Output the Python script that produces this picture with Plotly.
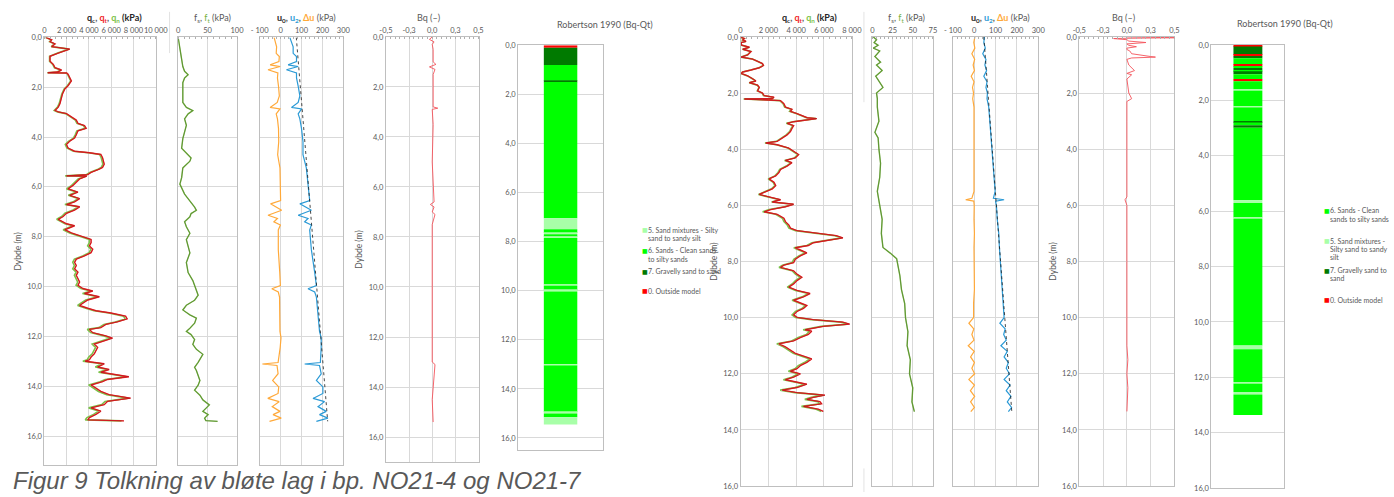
import plotly.graph_objects as go

W, H = 1394, 497
GRID = '#D9D9D9'
FRAME = '#BFBFBF'
TXT = '#595959'
FONT = 'Lato'

# ---------------- NO21-4 (left log) ----------------
depth_q4 = [0.00, 0.10, 0.17, 0.26, 0.37, 0.47, 0.63, 0.76, 0.96, 1.09,
            1.22, 1.31, 1.39, 1.42, 1.43, 1.48, 1.61, 1.75, 1.94, 2.07,
            2.27, 2.47, 2.66, 2.80, 2.93, 2.99, 3.06, 3.19, 3.32, 3.45,
            3.54, 3.65, 3.75, 3.91, 4.04, 4.17, 4.30, 4.44, 4.57, 4.63,
            4.70, 4.83, 4.96, 5.09, 5.22, 5.29, 5.42, 5.51, 5.56, 5.57,
            5.68, 5.81, 5.94, 6.08, 6.21, 6.34, 6.47, 6.60, 6.71, 6.80,
            6.93, 7.06, 7.19, 7.30, 7.39, 7.48, 7.56, 7.65, 7.72, 7.85,
            7.98, 8.11, 8.24, 8.37, 8.50, 8.64, 8.77, 8.90, 9.03, 9.16,
            9.29, 9.42, 9.55, 9.69, 9.82, 9.95, 10.08, 10.18, 10.28, 10.41,
            10.54, 10.67, 10.76, 10.87, 10.97, 11.06, 11.19, 11.30, 11.42, 11.52,
            11.65, 11.72, 11.85, 11.98, 12.07, 12.18, 12.31, 12.44, 12.57, 12.70,
            12.83, 12.94, 13.00, 13.10, 13.23, 13.33, 13.44, 13.56, 13.62, 13.73,
            13.82, 13.95, 14.08, 14.21, 14.34, 14.48, 14.61, 14.74, 14.87, 15.00,
            15.13, 15.26, 15.35, 15.39]
qt_4 = [120, 650, 500, 950, 650, 2270, 1240, 500, 500, 800,
        950, 1530, 1180, 300, 2000, 2120, 2270, 2420, 2120, 1830,
        1620, 1530, 1390, 1240, 950, 1240, 1980, 2420, 2860, 3010,
        3600, 3750, 3010, 2860, 2710, 2270, 1980, 2120, 2710, 4040,
        5070, 5220, 5310, 5370, 5220, 4930, 4190, 3890, 1980, 3800,
        3160, 2860, 2570, 2120, 3010, 2270, 3160, 2710, 1980, 3160,
        2710, 1980, 1680, 1240, 1680, 1980, 2710, 2270, 1830, 2420,
        3300, 4190, 4190, 4040, 4340, 4190, 3600, 2860, 2710, 2860,
        2710, 3010, 2860, 3010, 3160, 3010, 3450, 4340, 3600, 4930,
        3890, 3450, 3160, 3890, 4630, 5960, 7290, 7430, 6550, 5520,
        5070, 4040, 4340, 5520, 6110, 5370, 4480, 4780, 4630, 4480,
        4190, 4040, 3660, 5370, 4780, 5810, 5070, 6550, 7580, 5660,
        5220, 4190, 4630, 5070, 5810, 7730, 5660, 5370, 4190, 5070,
        4630, 4040, 3890, 7140]
qn_4 = [80, 600, 460, 900, 610, 2220, 1190, 460, 460, 750,
        900, 1480, 1130, 260, 1950, 2070, 2210, 2360, 2060, 1770,
        1560, 1470, 1320, 1170, 880, 1170, 1900, 2340, 2770, 2920,
        3500, 3650, 2910, 2760, 2600, 2160, 1870, 2010, 2590, 3920,
        4950, 5100, 5190, 5250, 5100, 4810, 4070, 3770, 1860, 3680,
        3030, 2730, 2440, 1990, 2880, 2140, 3020, 2570, 1840, 3020,
        2570, 1840, 1540, 1100, 1540, 1840, 2560, 2120, 1680, 2270,
        3140, 4030, 4030, 3880, 4170, 4020, 3430, 2690, 2540, 2690,
        2540, 2840, 2690, 2840, 2990, 2840, 3270, 4160, 3420, 4750,
        3710, 3270, 2980, 3710, 4450, 5780, 7110, 7250, 6370, 5340,
        4880, 3850, 4150, 5330, 5920, 5180, 4290, 4590, 4440, 4290,
        3980, 3830, 3450, 5160, 4570, 5600, 4860, 6340, 7370, 5450,
        5000, 3970, 4410, 4850, 5590, 7510, 5440, 5150, 3970, 4850,
        4410, 3820, 3670, 6920]

depth_f4 = [0, 0.38, 0.77, 1.17, 1.36, 1.50, 1.63, 1.82, 2.15, 2.61,
            2.81, 2.94, 3.07, 3.27, 3.53, 3.79, 4.06, 4.45, 4.71, 4.84,
            4.97, 5.24, 5.63, 5.89, 6.29, 6.55, 6.81, 6.94, 7.07, 7.20,
            7.40, 7.60, 7.86, 8.12, 8.39, 8.65, 9.04, 9.44, 9.76, 9.96,
            10.16, 10.35, 10.55, 10.75, 10.94, 11.14, 11.27, 11.47, 11.67, 11.80,
            11.93, 12.13, 12.32, 12.52, 12.72, 12.85, 13.04, 13.24, 13.37, 13.57,
            13.77, 13.96, 14.16, 14.36, 14.55, 14.75, 14.88, 15.01, 15.14, 15.28,
            15.38, 15.41]
ft_4 = [0, 3, 6, 8, 11, 17, 11, 8, 8, 8,
        14, 25, 17, 11, 14, 11, 8, 6, 17, 22,
        20, 8, 6, 3, 11, 20, 28, 31, 22, 20,
        11, 14, 20, 14, 17, 20, 14, 17, 25, 28,
        31, 34, 28, 14, 8, 20, 31, 28, 20, 14,
        22, 28, 25, 31, 42, 39, 34, 28, 31, 34,
        37, 34, 28, 37, 42, 53, 48, 42, 51, 45,
        47, 67]

depth_u4 = [0, 0.18, 0.38, 0.64, 0.77, 0.97, 1.10, 1.17, 1.23, 1.30,
            1.43, 1.63, 1.96, 2.35, 2.61, 2.81, 2.87, 3.07, 3.27, 3.66,
            4.19, 4.71, 5.24, 6.02, 6.55, 6.68, 6.81, 6.94, 7.14, 7.27,
            7.40, 7.53, 7.73, 8.52, 9.44, 9.96, 10.09, 10.22, 10.42, 11.14,
            11.80, 12.06, 12.45, 13.05, 13.11, 13.17, 13.50, 13.77, 14.03, 14.29,
            14.49, 14.62, 14.82, 15.01, 15.14, 15.28, 15.41]
u2_4 = [44, 52, 60, 60, 76, 76, 36, 84, 60, 28,
        76, 76, 84, 92, 84, 52, 100, 84, 92, 100,
        107, 107, 123, 131, 139, 92, 123, 147, 84, 131,
        115, 147, 139, 147, 163, 171, 131, 163, 171, 179,
        186, 194, 194, 190, 115, 186, 194, 171, 202, 202,
        155, 210, 179, 218, 186, 226, 171]
du_4 = [-31, -25, -19, -21, -6, -8, -50, -2, -27, -60,
        -13, -15, -10, -6, -16, -50, -3, -21, -15, -10,
        -9, -14, -3, -2, 0, -48, -18, 5, -60, -15,
        -32, -1, -11, -11, -4, -1, -42, -11, -5, -4,
        -3, 2, -2, -12, -87, -17, -12, -38, -9, -12,
        -61, -7, -40, -3, -36, 3, -53]
depth_u0_4 = [0.0, 15.41]
u0_4 = [75, 225]

depth_bq4 = [0, 0.1, 0.2, 0.3, 0.5, 1.0, 1.1, 1.2, 1.3, 1.5,
             2.0, 2.8, 2.85, 2.9, 3.5, 5.0, 6.6, 6.7, 6.8, 7.0,
             7.1, 7.5, 10.0, 13.0, 13.1, 14.5, 15.4]
bq_4 = [0.0, -0.03, 0.02, 0.0, 0.01, 0.01, 0.04, -0.03, 0.03, 0.01,
        0.01, 0.01, 0.06, 0.0, 0.01, 0.0, 0.02, -0.02, 0.02, 0.0,
        0.03, 0.0, 0.0, 0.0, 0.03, 0.0, 0.01]

rob4_bounds = [0.0, 0.1, 0.8, 1.45, 1.5, 7.05, 7.5, 7.65, 7.7, 7.8, 7.85,
               9.75, 9.8, 9.98, 10.03, 13.0, 13.05, 14.95, 15.0, 15.15, 15.45]
rob4_class = [0, 7, 6, 7, 6, 5, 6, 5, 6, 5, 6, 5, 6, 5, 6, 5, 6, 5, 6, 5]

# ---------------- NO21-7 (right log) ----------------
depth_q7 = [0.02, 0.06, 0.11, 0.16, 0.20, 0.29, 0.37, 0.44, 0.52, 0.64,
            0.72, 0.79, 0.87, 0.95, 1.02, 1.10, 1.18, 1.25, 1.30, 1.39,
            1.49, 1.57, 1.63, 1.72, 1.80, 1.92, 2.00, 2.09, 2.15, 2.20,
            2.21, 2.27, 2.38, 2.50, 2.58, 2.65, 2.73, 2.81, 2.88, 2.91,
            2.97, 3.02, 3.08, 3.16, 3.26, 3.37, 3.49, 3.61, 3.72, 3.78,
            3.84, 3.96, 4.07, 4.19, 4.31, 4.40, 4.48, 4.60, 4.72, 4.83,
            4.95, 5.06, 5.18, 5.30, 5.41, 5.53, 5.61, 5.70, 5.80, 5.88,
            5.96, 6.05, 6.15, 6.23, 6.32, 6.46, 6.58, 6.70, 6.81, 6.90,
            6.99, 7.08, 7.16, 7.24, 7.33, 7.43, 7.51, 7.59, 7.69, 7.80,
            7.92, 8.04, 8.13, 8.21, 8.33, 8.45, 8.56, 8.68, 8.80, 8.91,
            9.03, 9.14, 9.26, 9.38, 9.49, 9.57, 9.67, 9.78, 9.90, 9.99,
            10.07, 10.16, 10.23, 10.31, 10.43, 10.48, 10.60, 10.71, 10.83, 10.93,
            11.04, 11.16, 11.27, 11.39, 11.47, 11.59, 11.71, 11.82, 11.91, 12.00,
            12.12, 12.21, 12.29, 12.37, 12.49, 12.58, 12.67, 12.76, 12.84, 12.91,
            12.99, 13.07, 13.16, 13.26, 13.34]
qt_7 = [50, 280, 165, 400, 60, 50, 640, 165, 755, 520,
        50, 870, 1230, 1580, 1650, 1350, 755, 165, 50, 520,
        870, 1110, 640, 1230, 1350, 1230, 1580, 1700, 2410, 2300,
        280, 2880, 3120, 3230, 3700, 3590, 4060, 4530, 4800, 5480,
        4300, 3820, 3350, 3820, 3700, 3590, 3350, 3000, 2640, 1820,
        2640, 3470, 3820, 4180, 3940, 3230, 3700, 3350, 2880, 2760,
        2530, 2050, 2410, 2530, 2290, 1700, 1350, 2050, 2880, 2290,
        3820, 3230, 2170, 1700, 2640, 3120, 3230, 3470, 3590, 4060,
        5480, 6890, 7360, 6420, 5240, 4880, 3940, 4300, 4770, 4300,
        3940, 3820, 3120, 2880, 3820, 4060, 4410, 4060, 3820, 3470,
        4060, 5000, 4530, 3820, 4300, 4770, 4530, 4060, 3820, 4060,
        5240, 7360, 7840, 5950, 4650, 5120, 4880, 4300, 3820, 2760,
        3230, 3590, 3940, 4650, 5120, 4770, 4300, 4060, 3590, 4300,
        3820, 3230, 4060, 4770, 4060, 3000, 4060, 6060, 5240, 4770,
        5710, 5830, 4530, 5590, 5950]
qn_7 = [30, 260, 145, 380, 40, 30, 620, 145, 735, 500,
        30, 850, 1210, 1560, 1630, 1330, 735, 145, 30, 500,
        850, 1090, 620, 1210, 1330, 1210, 1560, 1640, 2350, 2240,
        220, 2820, 3060, 3170, 3640, 3530, 4000, 4470, 4740, 5420,
        4240, 3760, 3290, 3760, 3640, 3530, 3290, 2940, 2580, 1760,
        2580, 3410, 3760, 4120, 3880, 3170, 3640, 3290, 2820, 2700,
        2470, 1990, 2350, 2470, 2230, 1640, 1290, 1990, 2820, 2230,
        3760, 3170, 2060, 1590, 2530, 3010, 3120, 3360, 3480, 3950,
        5370, 6780, 7250, 6310, 5130, 4770, 3830, 4190, 4660, 4190,
        3830, 3710, 3010, 2770, 3710, 3950, 4300, 3950, 3710, 3360,
        3950, 4890, 4420, 3710, 4190, 4660, 4420, 3950, 3710, 3950,
        5090, 7210, 7690, 5800, 4500, 4970, 4730, 4150, 3670, 2610,
        3080, 3440, 3790, 4500, 4970, 4620, 4150, 3910, 3440, 4150,
        3670, 3080, 3910, 4620, 3910, 2850, 3910, 5910, 5090, 4620,
        5560, 5680, 4380, 5440, 5800]

depth_f7 = [0, 0.1, 0.2, 0.3, 0.4, 0.5, 0.7, 0.9, 1.0, 1.2,
            1.4, 1.6, 1.8, 2.0, 2.2, 2.5, 3.0, 3.4, 3.6, 4.0,
            4.5, 5.0, 5.5, 6.0, 6.5, 7.0, 7.5, 7.7, 7.9, 8.2,
            8.5, 9.0, 9.5, 10.0, 10.5, 11.0, 11.5, 12.0, 12.5, 13.0,
            13.35]
ft_7 = [1, 5, 2, 7, 1, 9, 3, 10, 5, 12,
        4, 8, 13, 5, 6, 6, 8, 3, 7, 8,
        10, 9, 6, 9, 12, 11, 13, 22, 30, 32,
        34, 36, 40, 41, 44, 43, 47, 46, 50, 49,
        52]

depth_u7 = [0, 0.2, 0.4, 0.6, 0.8, 1.0, 1.2, 1.4, 1.6, 1.8,
            2.0, 2.2, 2.5, 3.0, 3.5, 4.0, 4.5, 5.0, 5.5, 5.75,
            5.8, 5.85, 6.0, 6.5, 7.0, 7.5, 8.0, 8.5, 9.0, 9.5,
            10.0, 10.2, 10.4, 10.6, 10.8, 11.0, 11.2, 11.4, 11.6, 11.8,
            12.0, 12.2, 12.4, 12.6, 12.8, 13.0, 13.2, 13.35]
u2_7 = [48, 45, 52, 40, 55, 50, 58, 45, 60, 55,
        62, 60, 68, 73, 78, 82, 88, 95, 98, 90,
        140, 100, 104, 108, 115, 118, 122, 128, 132, 135,
        140, 120, 145, 138, 150, 125, 155, 140, 160, 150,
        165, 140, 168, 150, 172, 155, 175, 160]
du_7 = [3, -2, 3, -11, 2, -5, 1, -14, -1, -8,
        -3, -7, -1, -1, -1, -2, -1, 1, -1, -11,
        -40, -2, 0, -1, 1, -1, -1, 0, 1, -3,
        -3, -25, -2, -11, -1, -28, 0, -17, 1, -11,
        2, -25, 1, -18, 2, -17, 1, -16]
depth_u0_7 = [0.0, 13.35]
u0_7 = [45, 176]

depth_bq7 = [0, 0.02, 0.03, 0.05, 0.06, 0.1, 0.15, 0.2, 0.25, 0.3,
             0.35, 0.4, 0.45, 0.5, 0.6, 0.7, 0.72, 0.75, 0.8, 1.0,
             1.2, 1.3, 1.35, 1.5, 2.0, 2.2, 2.3, 3.0, 5.7, 5.8,
             6.0, 8.0, 11.0, 11.5, 12.0, 12.5, 13.34]
bq_7 = [0.0, 0.5, 0.5, 0.0, -0.14, 0.0, 0.02, 0.2, 0.0, 0.02,
        0.1, 0.0, 0.0, 0.03, 0.05, 0.25, 0.3, 0.05, 0.0, 0.02,
        0.08, 0.0, 0.05, 0.0, 0.02, 0.05, 0.0, 0.0, 0.0, -0.02,
        0.0, 0.0, 0.0, 0.01, 0.0, 0.01, 0.0]

rob7_bounds = [0.0, 0.06, 0.35, 0.41, 0.48, 0.71, 0.78, 0.83, 0.92, 0.95,
               1.06, 1.24, 1.31, 1.6, 1.65, 2.21, 2.26, 2.75, 2.8, 2.9,
               2.99, 5.61, 5.71, 6.23, 6.28, 10.85, 10.99, 12.17, 12.23, 12.53,
               12.62, 13.36]
rob7_class = [0, 7, 0, 7, 6, 0, 6, 7, 6, 7, 6, 0, 6, 5, 6, 5, 6, 7, 6, 7,
              6, 5, 6, 5, 6, 5, 6, 5, 6, 5, 6]

# Robertson (1990) soil behaviour classes
class_colors = {0: '#FF0000', 5: '#A8FFA8', 6: '#00FF00', 7: '#007A00'}
legend4 = [(5, ['5. Sand mixtures - Silty', 'sand to sandy silt']),
           (6, ['6. Sands - Clean sands', 'to silty sands']),
           (7, ['7. Gravelly sand to sand']),
           (0, ['0. Outside model'])]
legend7 = [(6, ['6. Sands - Clean', 'sands to silty sands']),
           (5, ['5. Sand mixtures -', 'Silty sand to sandy', 'silt']),
           (7, ['7. Gravelly sand to', 'sand']),
           (0, ['0. Outside model'])]

# ---------------- layout helpers ----------------
fig = go.Figure()
layout = {}
annotations = []
shapes = []


def xdom(a, b):
    return [a / W, b / W]


def ydom(top, bottom):
    return [1 - bottom / H, 1 - top / H]


def depth_txt(v):
    return f"{v:.1f}".replace('.', ',')


def thousands(v):
    return f"{v:,}".replace(',', ' ')


def panel(n, xpx, ypx, xrange, yrange, xticks=None, xtext=None, ylabels=False,
          ytitle=False, vgrid=True, minor_dtick=None):
    xa = 'xaxis' if n == 1 else f'xaxis{n}'
    ya = 'yaxis' if n == 1 else f'yaxis{n}'
    xd = dict(domain=xdom(*xpx), range=xrange, anchor=f'y{n}', side='top',
              showgrid=vgrid, gridcolor=GRID, gridwidth=1, zeroline=False,
              showline=True, linecolor=FRAME, linewidth=1, mirror=True,
              ticks='', fixedrange=True, tickangle=0,
              tickfont=dict(family=FONT, size=7.5, color=TXT))
    if xticks is None:
        xd.update(showticklabels=False, tickvals=[])
    else:
        xd.update(tickmode='array', tickvals=xticks, ticktext=xtext)
    if minor_dtick:
        xd['minor'] = dict(ticks='inside', ticklen=2, tickcolor='#B0B0B0',
                           dtick=minor_dtick, tick0=xrange[0], showgrid=False)
    yt = [v for v in range(0, 17, 2) if v <= max(yrange)]
    yd = dict(domain=ydom(*ypx), range=yrange, anchor=f'x{n}',
              showgrid=True, gridcolor=GRID, gridwidth=1, zeroline=False,
              showline=True, linecolor=FRAME, linewidth=1, mirror=True,
              ticks='', fixedrange=True, tickmode='array', tickvals=yt,
              ticktext=[depth_txt(v) for v in yt] if ylabels else None,
              showticklabels=ylabels,
              tickfont=dict(family=FONT, size=7.5, color=TXT))
    if ytitle:
        yd['title'] = dict(text='Dybde (m)', standoff=4,
                           font=dict(family=FONT, size=8.5, color=TXT))
    layout[xa] = xd
    layout[ya] = yd
    return f'x{n}', f'y{n}'


def line(axes, x, y, color, width=1.2, dash=None):
    fig.add_trace(go.Scatter(x=x, y=y, xaxis=axes[0], yaxis=axes[1], mode='lines',
                             line=dict(color=color, width=width, dash=dash),
                             hoverinfo='skip', showlegend=False))


def header(xc, ypx, text, size=9):
    annotations.append(dict(x=xc / W, y=1 - ypx / H, xref='paper', yref='paper',
                            text=text, showarrow=False, xanchor='center', yanchor='middle',
                            font=dict(family=FONT, size=size, color=TXT)))


def robertson(axes, bounds, classes):
    tops = bounds[:-1]
    thick = [b - a for a, b in zip(bounds[:-1], bounds[1:])]
    fig.add_trace(go.Bar(x=[0] * len(tops), y=thick, base=tops, width=0.395,
                         xaxis=axes[0], yaxis=axes[1],
                         marker=dict(color=[class_colors[c] for c in classes], line=dict(width=0)),
                         hoverinfo='skip', showlegend=False))


def legend(xpx, ypx, items, gaps):
    y = ypx
    for (cls, lines_), gap in zip(items, gaps):
        annotations.append(dict(x=xpx / W, y=1 - y / H, xref='paper', yref='paper',
                                text='■', showarrow=False, xanchor='left', yanchor='middle',
                                font=dict(family='DejaVu Sans', size=6, color=class_colors[cls])))
        for i, t in enumerate(lines_):
            annotations.append(dict(x=(xpx + 6) / W, y=1 - (y + i * 8.5) / H,
                                    xref='paper', yref='paper', text=t, showarrow=False,
                                    xanchor='left', yanchor='middle',
                                    font=dict(family=FONT, size=7, color=TXT)))
        y += gap


RED = '#F0282C'
DARKRED = '#A50F15'
GREEN_Q = '#7CC24A'
GREEN_F = '#76B043'
DARKGREEN_F = '#3F6E22'
BLUE = '#2B9AD6'
ORANGE = '#FFA93A'
BQRED = '#F4525A'

u_ticks = [-100, 0, 100, 200, 300]
u_text = ['- 100', '0', '100', '200', '300']
bq_ticks = [-0.5, -0.25, 0, 0.25, 0.5]
bq_text = ['-0,5', '-0,3', '0,0', '0,3', '0,5']

# ---------- NO21-4 ----------
yl = [34, 470]
yr_l = [(470 - 34) / (406 / 16), 0]
a1 = panel(1, (36, 149), yl, [0, 10000], yr_l, list(range(0, 10001, 2000)),
           [thousands(v) for v in range(0, 10001, 2000)], ylabels=True, ytitle=True,
           minor_dtick=500)
line(a1, qn_4, depth_q4, GREEN_Q, 1.6)
line(a1, qt_4, depth_q4, RED, 1.4)
line(a1, qt_4, depth_q4, DARKRED, 0.5)

a2 = panel(2, (171.7, 231.5), yl, [0, 100], yr_l, [0, 50, 100], ['0', '50', '100'],
           minor_dtick=10)
line(a2, ft_4, depth_f4, GREEN_F, 1.4)
line(a2, ft_4, depth_f4, DARKGREEN_F, 0.4)

a3 = panel(3, (254.5, 339.5), yl, [-100, 300], yr_l, u_ticks, u_text, minor_dtick=20)
line(a3, du_4, depth_u4, ORANGE, 1.2)
line(a3, u2_4, depth_u4, BLUE, 1.2)
line(a3, u0_4, depth_u0_4, '#1A1A1A', 0.8, 'dot')

a4 = panel(4, (382.7, 476.7), (33.5, 466.5), [-0.5, 0.5], [17, 0],
           bq_ticks, bq_text, ylabels=True, ytitle=True, minor_dtick=0.05)
line(a4, bq_4, depth_bq4, BQRED, 0.9)

a5 = panel(5, (517, 603), (42, 454.5), [-0.5, 0.5], [16.5, 0], ylabels=True, vgrid=False)
robertson(a5, rob4_bounds, rob4_class)

# ---------- NO21-7 ----------
yr7 = [33.5, 491]
a6 = panel(6, (742.7, 855.7), yr7, [0, 8000], [16, 0], list(range(0, 8001, 2000)),
           [thousands(v) for v in range(0, 8001, 2000)], ylabels=True, ytitle=True,
           minor_dtick=400)
line(a6, qn_7, depth_q7, GREEN_Q, 1.6)
line(a6, qt_7, depth_q7, RED, 1.4)
line(a6, qt_7, depth_q7, DARKRED, 0.5)

a7 = panel(7, (876.7, 938.0), yr7, [0, 75], [16, 0], [0, 25, 50, 75],
           ['0', '25', '50', '75'], minor_dtick=5)
line(a7, ft_7, depth_f7, GREEN_F, 1.4)
line(a7, ft_7, depth_f7, DARKGREEN_F, 0.4)

a8 = panel(8, (958.3, 1045), yr7, [-100, 300], [16, 0], u_ticks, u_text, minor_dtick=20)
line(a8, du_7, depth_u7, ORANGE, 1.2)
line(a8, u2_7, depth_u7, BLUE, 1.2)
line(a8, u0_7, depth_u0_7, '#1A1A1A', 0.8, 'dot')

a9 = panel(9, (1086.7, 1183.3), yr7, [-0.5, 0.5], [16, 0], bq_ticks, bq_text,
           ylabels=True, ytitle=True, minor_dtick=0.05)
line(a9, bq_7, depth_bq7, BQRED, 0.9)

a10 = panel(10, (1220.7, 1295), (41.7, 493), [-0.5, 0.5], [16, 0], ylabels=True, vgrid=False)
robertson(a10, rob7_bounds, rob7_class)

# ---------- panel headers ----------
q_head = ("<b><span style='color:#262626'>q<sub>c</sub></span>, "
          "<span style='color:%s'>q<sub>t</sub></span>, "
          "<span style='color:%s'>q<sub>n</sub></span> "
          "<span style='color:#262626'>(kPa)</span></b>") % (RED, GREEN_Q)
f_head = "f<sub>s</sub>, <span style='color:%s'>f<sub>t</sub></span> (kPa)" % GREEN_F
u_head = ("<b><span style='color:#262626'>u<sub>0</sub></span>, "
          "<span style='color:%s'>u<sub>2</sub></span>, "
          "<span style='color:%s'>Δu</span></b> (kPa)") % (BLUE, ORANGE)
for xc, t in [(107, q_head), (207, f_head), (302, u_head), (426, 'Bq (–)'),
              (813, q_head), (911, f_head), (1007, u_head), (1132, 'Bq (–)')]:
    header(xc, 14, t)
header(605, 21, 'Robertson 1990 (Bq-Qt)', 9)
header(1296, 20, 'Robertson 1990 (Bq-Qt)', 9)

legend(641, 230, legend4, [21, 21, 20, 0])
legend(1333, 210, legend7, [31, 30, 30, 0])

# separators between pasted chart blocks
for x0, y0, y1 in [(163, 8, 50), (868, 8, 100), (868, 473, 497)]:
    shapes.append(dict(type='line', xref='paper', yref='paper',
                       x0=x0 / W, x1=x0 / W, y0=1 - y0 / H, y1=1 - y1 / H,
                       line=dict(color='#E3E3E3', width=1)))

# figure caption
annotations.append(dict(x=2 / W, y=1 - 485 / H, xref='paper', yref='paper',
                        text='<i>Figur 9 Tolkning av bløte lag i bp. NO21-4 og NO21-7</i>',
                        showarrow=False, xanchor='left', yanchor='middle',
                        font=dict(family='Liberation Sans', size=24, color='#595959')))

fig.update_layout(width=W, height=H, margin=dict(l=0, r=0, t=0, b=0),
                  paper_bgcolor='white', plot_bgcolor='white', barmode='overlay',
                  showlegend=False, annotations=annotations, shapes=shapes, **layout)

fig.write_html('out.html')
